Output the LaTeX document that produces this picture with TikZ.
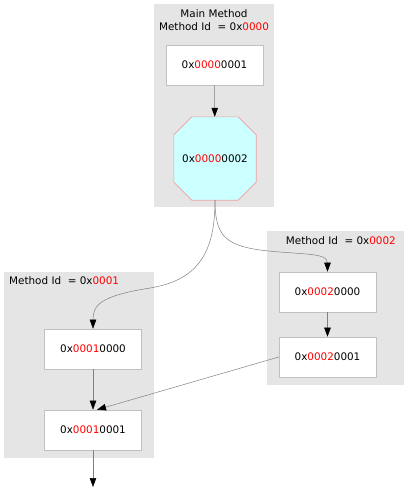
\documentclass[tikz,border=0pt]{standalone}
\usepackage{fontspec}
\setmainfont{DejaVu Sans}
\usetikzlibrary{arrows.meta,backgrounds}
\definecolor{clus}{HTML}{E5E5E5}
\definecolor{nbord}{HTML}{C0C0C0}
\definecolor{octfill}{HTML}{CCFFFF}
\definecolor{octbord}{HTML}{F0A0A0}
\definecolor{edgec}{HTML}{808080}
\newcommand{\rd}[1]{\textcolor{red}{#1}}
\begin{document}
\begin{tikzpicture}[x=1pt,y=-1pt, font=\fontsize{10.4}{12.5}\selectfont,
 box/.style={draw=nbord, fill=white, minimum width=97pt, minimum height=40pt, inner sep=0pt, line width=0.6pt},
 octbox/.style={minimum width=82pt, minimum height=83pt, inner sep=0pt},
 clusterbg/.style={fill=clus, draw=none},
 lbl/.style={inner sep=0pt},
 edge/.style={draw=edgec, line width=0.5pt, -{Triangle[length=9pt,width=6.5pt,color=black]}},
 ]
\useasboundingbox (0,0) rectangle (408,490);
% labels
\node[lbl] (t1) at (214,14) {Main Method};
\node[lbl] (t2) at (214,27) {Method Id~~= 0x\rd{0000}};
\node[lbl,anchor=west] (t3) at (9,281) {Method Id~~= 0x\rd{0001}};
\node[lbl,anchor=east] (t4) at (396,241) {Method Id~~= 0x\rd{0002}};
% nodes
\node[box] (n1) at (214.5,65) {0x\rd{0000}0001};
\node[octbox] (oct) at (215,158.5) {0x\rd{0000}0002};
\node[box] (n10000) at (93,349) {0x\rd{0001}0000};
\node[box] (n10001) at (93,430) {0x\rd{0001}0001};
\node[box] (n20000) at (327.5,292) {0x\rd{0002}0000};
\node[box] (n20001) at (327.5,357) {0x\rd{0002}0001};
\coordinate (end) at (93,487);
% edges
\draw[edge] (n1) -- (oct);
\draw[edge] (oct.south) .. controls (215,250) and (200,280) .. (150,288) .. controls (100,296) and (93,305) .. (n10000.north);
\draw[edge] (oct.south) .. controls (215,235) and (225,245) .. (260,250) .. controls (300,255) and (327.5,252) .. (n20000.north);
\draw[edge] (n10000) -- (n10001);
\draw[edge] (n20000) -- (n20001);
\draw[edge] (n20001.west) -- ([xshift=4pt]n10001.north);
\draw[edge] (n10001) -- (end);
% backgrounds
\begin{scope}[on background layer]
\fill[clusterbg] (154,4) rectangle (274,207);
\fill[clusterbg] (4,272) rectangle (154,458);
\fill[clusterbg] (267,231) rectangle (404,385);
\draw[fill=octfill, draw=octbord, line width=0.6pt]
  ([xshift=18pt]oct.north west) -- ([xshift=-18pt]oct.north east)
  -- ([yshift=-18pt]oct.north east) -- ([yshift=18pt]oct.south east)
  -- ([xshift=-18pt]oct.south east) -- ([xshift=18pt]oct.south west)
  -- ([yshift=18pt]oct.south west) -- ([yshift=-18pt]oct.north west) -- cycle;
\end{scope}
\end{tikzpicture}
\end{document}
